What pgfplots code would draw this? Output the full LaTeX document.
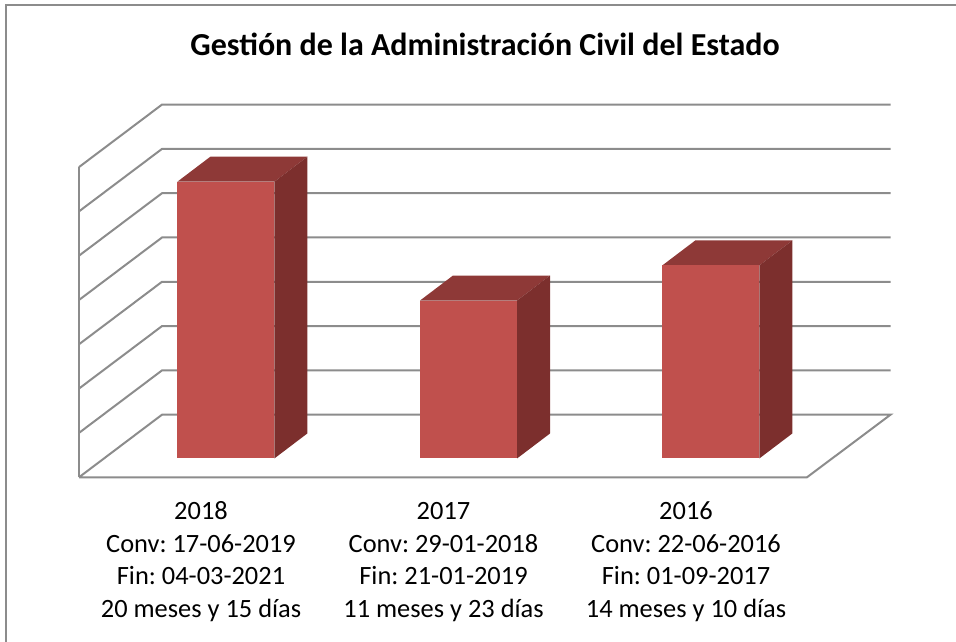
\documentclass[border=0pt]{standalone}
\usepackage{fontspec}
\setmainfont{Carlito}
\usepackage{pgfplots}
\pgfplotsset{compat=1.18}
\definecolor{front}{HTML}{C0504D}
\definecolor{topf}{HTML}{8E3937}
\definecolor{sidef}{HTML}{7C2F2D}
\definecolor{gridc}{HTML}{8C8C8C}
\tikzset{lab/.style={anchor=base,inner sep=0pt,font=\fontsize{26.4}{32}\selectfont}}
\begin{document}
\frenchspacing
\begin{tikzpicture}[x=1pt,y=1pt]
\path[use as bounding box] (0,0) rectangle (956,642);
\begin{axis}[
  at={(0,0)},anchor=south west,
  scale only axis,width=956pt,height=642pt,
  xmin=0,xmax=956,ymin=-13.593,ymax=33.963,
  axis lines=none,clip=true,
  grid=none,
  every axis plot/.append style={mark=none},
]
% outer frame
\addplot[gridc,line width=2pt] coordinates {(6,-13.593)(6,33.556)(956,33.556)};
% walls: gridlines
\addplot[gridc,line width=2pt] coordinates {(79,21.585)(162,26.215)(890.5,26.215)};
\addplot[gridc,line width=2pt] coordinates {(79,18.304)(162,22.933)(890.5,22.933)};
\addplot[gridc,line width=2pt] coordinates {(79,15.022)(162,19.652)(890.5,19.652)};
\addplot[gridc,line width=2pt] coordinates {(79,11.741)(162,16.370)(890.5,16.370)};
\addplot[gridc,line width=2pt] coordinates {(79,8.459)(162,13.089)(890.5,13.089)};
\addplot[gridc,line width=2pt] coordinates {(79,5.178)(162,9.807)(890.5,9.807)};
\addplot[gridc,line width=2pt] coordinates {(79,1.896)(162,6.526)(890.5,6.526)};
\addplot[gridc,line width=2pt] coordinates {(79,-1.393)(162,3.244)(890.5,3.244)(807,-1.393)(79,-1.393)};
\addplot[gridc,line width=2pt] coordinates {(79,-1.393)(79,21.585)};
% bar 2018
\addplot[fill=topf,draw=none] coordinates {(177.3,20.5)(210.3,22.352)(307.3,22.352)(274.3,20.5)} -- cycle;
\addplot[fill=sidef,draw=none] coordinates {(274.3,0)(307.3,1.852)(307.3,22.352)(274.3,20.5)} -- cycle;
\addplot[fill=front,draw=none] coordinates {(177.3,0)(177.3,20.5)(274.3,20.5)(274.3,0)} -- cycle;
% bar 2017
\addplot[fill=topf,draw=none] coordinates {(420,11.7)(453,13.552)(550,13.552)(517,11.7)} -- cycle;
\addplot[fill=sidef,draw=none] coordinates {(517,0)(550,1.852)(550,13.552)(517,11.7)} -- cycle;
\addplot[fill=front,draw=none] coordinates {(420,0)(420,11.7)(517,11.7)(517,0)} -- cycle;
% bar 2016
\addplot[fill=topf,draw=none] coordinates {(662.3,14.3)(695.3,16.152)(792.3,16.152)(759.3,14.3)} -- cycle;
\addplot[fill=sidef,draw=none] coordinates {(759.3,0)(792.3,1.852)(792.3,16.152)(759.3,14.3)} -- cycle;
\addplot[fill=front,draw=none] coordinates {(662.3,0)(662.3,14.3)(759.3,14.3)(759.3,0)} -- cycle;
% title
\node[anchor=base,font=\fontsize{32}{38}\selectfont\bfseries,inner sep=0pt] at (axis cs:485,29.815) {Gestión de la Administración Civil del Estado};
% labels
\node[lab] at (axis cs:201,-4.556) {2018};
\node[lab] at (axis cs:201,-6.963) {Conv: 17-06-2019};
\node[lab] at (axis cs:201,-9.370) {Fin: 04-03-2021};
\node[lab] at (axis cs:201,-11.778) {20 meses y 15 días};
\node[lab] at (axis cs:443.5,-4.556) {2017};
\node[lab] at (axis cs:443.5,-6.963) {Conv: 29-01-2018};
\node[lab] at (axis cs:443.5,-9.370) {Fin: 21-01-2019};
\node[lab] at (axis cs:443.5,-11.778) {11 meses y 23 días};
\node[lab] at (axis cs:686,-4.556) {2016};
\node[lab] at (axis cs:686,-6.963) {Conv: 22-06-2016};
\node[lab] at (axis cs:686,-9.370) {Fin: 01-09-2017};
\node[lab] at (axis cs:686,-11.778) {14 meses y 10 días};
\end{axis}
\end{tikzpicture}
\end{document}
